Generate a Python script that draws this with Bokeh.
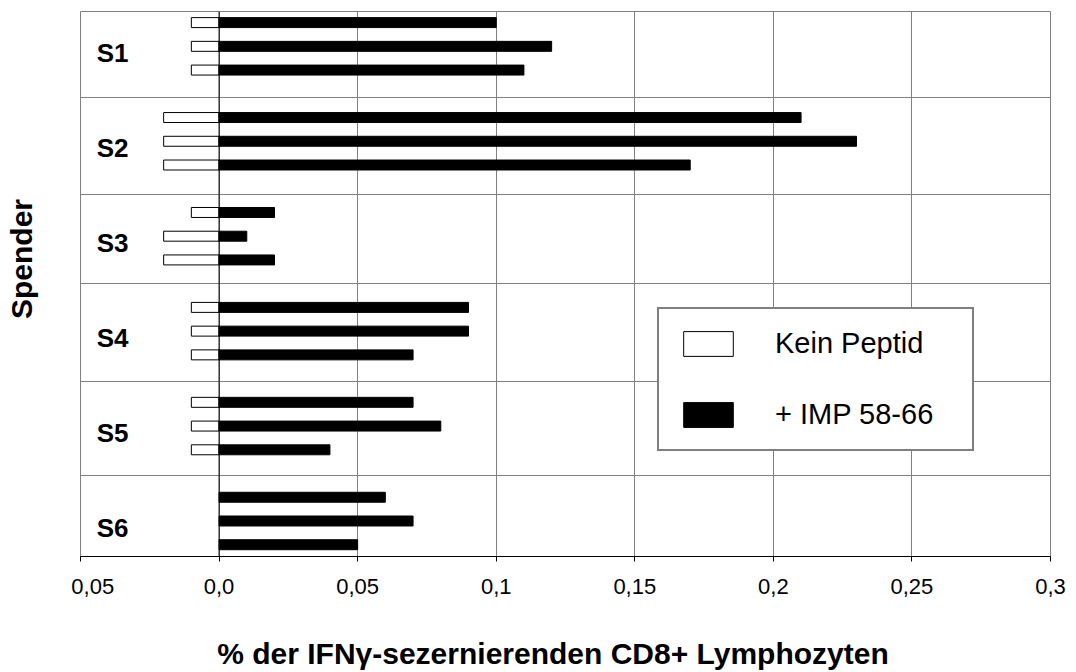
from bokeh.plotting import figure
from bokeh.models import (ColumnDataSource, FixedTicker, Span, Legend, LegendItem, Range1d)
from bokeh.core.properties import value
from bokeh.embed import file_html
from bokeh.resources import INLINE

# ---- data ----
donors = ["S1", "S2", "S3", "S4", "S5", "S6"]
kein_peptid = [[-0.01, -0.01, -0.01],
               [-0.02, -0.02, -0.02],
               [-0.01, -0.02, -0.02],
               [-0.01, -0.01, -0.01],
               [-0.01, -0.01, -0.01],
               [0.0, 0.0, 0.0]]
imp_58_66 = [[0.10, 0.12, 0.11],
             [0.21, 0.23, 0.17],
             [0.02, 0.01, 0.02],
             [0.09, 0.09, 0.07],
             [0.07, 0.08, 0.04],
             [0.06, 0.07, 0.05]]
x_ticks = [-0.05, 0.0, 0.05, 0.1, 0.15, 0.2, 0.25, 0.3]
x_tick_labels = ["\u00a0\u00a0\u00a0\u00a00,05", "0,0", "0,05", "0,1", "0,15", "0,2", "0,25", "0,3"]
separators = [4.965, 3.941, 3.005, 1.968, 0.982]
x_title = "% der IFN\u03b3-sezernierenden CD8+ Lymphozyten"
y_title = "Spender"

FONT = "Liberation Sans"
NB = "\u00a0"
n = len(donors)
offsets = [0.25, 0.0, -0.25]

ky, kl, kr = [], [], []
iy, il, ir = [], [], []
for i in range(n):
    c = (n - 0.5) - i
    for j, off in enumerate(offsets):
        v = kein_peptid[i][j]
        if v != 0:
            ky.append(c + off); kl.append(v); kr.append(0.0)
        w = imp_58_66[i][j]
        iy.append(c + off); il.append(0.0); ir.append(w)

src_k = ColumnDataSource(dict(y=ky, left=kl, right=kr))
src_i = ColumnDataSource(dict(y=iy, left=il, right=ir))

p = figure(width=1076, height=672, output_backend="svg", toolbar_location=None,
           x_range=Range1d(-0.05, 0.3), y_range=Range1d(0.126, 5.867),
           min_border_left=80, min_border_right=26,
           min_border_top=11, min_border_bottom=113)
p.background_fill_color = "white"
p.border_fill_color = "white"
p.outline_line_color = "#808080"
p.outline_line_width = 1

# grids
p.xgrid.ticker = FixedTicker(ticks=x_ticks[1:])
p.xgrid.grid_line_color = "#808080"
p.xgrid.grid_line_width = 1
p.ygrid.ticker = FixedTicker(ticks=separators)
p.ygrid.grid_line_color = "#808080"
p.ygrid.grid_line_width = 1

# x axis
ax = p.xaxis[0]
ax.ticker = FixedTicker(ticks=x_ticks)
ax.major_label_overrides = {t: l for t, l in zip(x_ticks, x_tick_labels)}
ax.axis_line_color = "black"
ax.major_tick_line_color = "black"
ax.major_tick_out = 5
ax.major_tick_in = 0
ax.minor_tick_line_color = None
ax.major_label_text_font = FONT
ax.major_label_text_font_size = "22px"
ax.major_label_text_color = "black"
ax.major_label_standoff = 12
ax.axis_label = x_title + NB * 3
ax.axis_label_text_font = FONT
ax.axis_label_text_font_size = "30px"
ax.axis_label_text_font_style = "bold"
ax.axis_label_text_color = "black"
ax.axis_label_standoff = 35

# y axis: title only
ay = p.yaxis[0]
ay.ticker = FixedTicker(ticks=[])
ay.axis_line_color = None
ay.major_tick_line_color = None
ay.minor_tick_line_color = None
ay.major_tick_out = 0
ay.major_tick_in = 0
ay.major_label_standoff = 0
ay.axis_label = NB * 6 + y_title
ay.axis_label_text_font = FONT
ay.axis_label_text_font_size = "30px"
ay.axis_label_text_font_style = "bold"
ay.axis_label_text_color = "black"
ay.axis_label_standoff = 43

rk = p.hbar(y="y", left="left", right="right", height=0.105, source=src_k,
            fill_color="white", line_color="black", line_width=1)
ri = p.hbar(y="y", left="left", right="right", height=0.105, source=src_i,
            fill_color="black", line_color="black", line_width=1)

p.add_layout(Span(location=0, dimension="height", line_color="black", line_width=1))

# donor labels
lab_src = ColumnDataSource(dict(x=[-0.0384] * n, y=[(n - 0.5) - i - 0.07 for i in range(n)], t=donors))
p.text(x="x", y="y", text="t", source=lab_src, text_font=value(FONT), text_font_size="26px",
       text_font_style="bold", text_align="center", text_baseline="middle", text_color="black")

legend = Legend(items=[LegendItem(label="Kein Peptid", renderers=[rk]),
                       LegendItem(label="+ IMP 58-66", renderers=[ri])],
                location=(577, 105), orientation="vertical",
                glyph_width=62, glyph_height=31, label_standoff=36, label_width=179,
                label_height=25, spacing=38, padding=18, margin=0,
                border_line_color="black", border_line_width=2,
                background_fill_color="white", background_fill_alpha=1.0,
                label_text_font=FONT, label_text_font_size="29px", label_text_color="black")
p.add_layout(legend, "center")

open("out.html", "w").write(file_html(p, INLINE))
